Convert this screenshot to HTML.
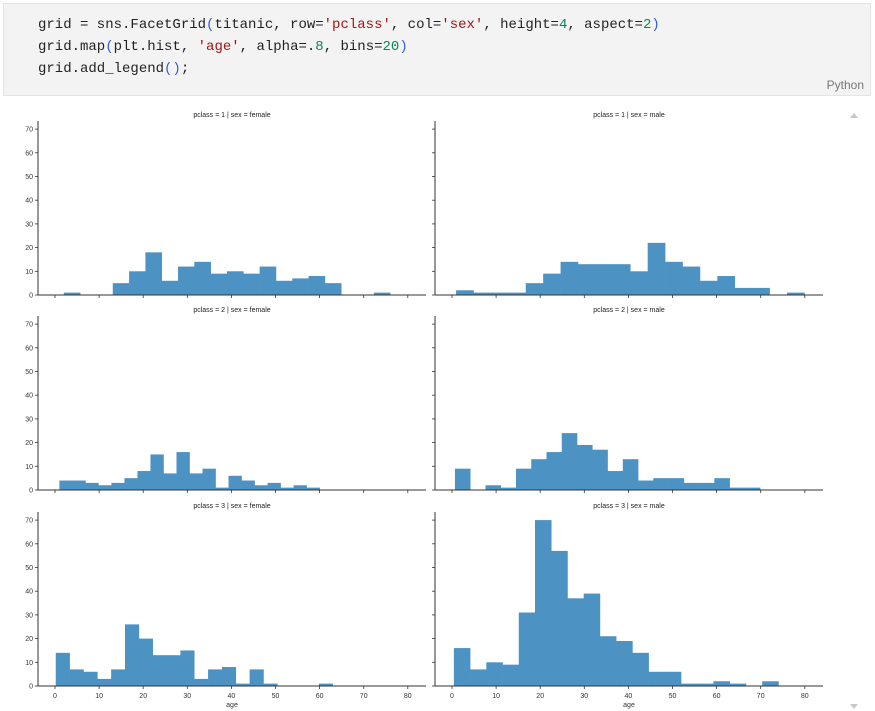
<!DOCTYPE html>
<html><head><meta charset="utf-8"><style>
body{margin:0;width:875px;height:711px;background:#fff;overflow:hidden;position:relative;font-family:"Liberation Sans",sans-serif}
#code{position:absolute;left:3px;top:3px;width:868px;height:93px;background:#f3f3f3;border:1px solid #e4e4e4;box-sizing:border-box}
#code pre{margin:0;position:absolute;left:34px;top:10px;font-family:"Liberation Mono",monospace;font-size:14px;line-height:22px;color:#222}
.p{color:#2f5fd8}.s{color:#a31515}.n{color:#098658}
#lang{position:absolute;right:6px;bottom:3px;font-size:12px;color:#777}
svg{position:absolute;left:0;top:0}
</style></head><body>
<div id="code">
<pre>grid = sns.FacetGrid<span class="p">(</span>titanic, row=<span class="s">'pclass'</span>, col=<span class="s">'sex'</span>, height=<span class="n">4</span>, aspect=<span class="n">2</span><span class="p">)</span>
grid.map<span class="p">(</span>plt.hist, <span class="s">'age'</span>, alpha=.<span class="n">8</span>, bins=<span class="n">20</span><span class="p">)</span>
grid.add_legend<span class="p">()</span>;</pre>
<div id="lang">Python</div>
</div>
<svg id="chart" width="875" height="711">
<polygon points="850,118 858,118 854,113" fill="#c8c8c8"/>
<polygon points="850,704 858,704 854,709" fill="#c8c8c8"/>
</svg>
<script>
const titles = ["pclass = 1 | sex = female","pclass = 1 | sex = male","pclass = 2 | sex = female","pclass = 2 | sex = male","pclass = 3 | sex = female","pclass = 3 | sex = male"];
const binStarts = [2, 0.92, 1, 0.67, 0.17, 0.42];
const binWidths = [3.7, 3.95, 2.95, 3.46, 3.14, 3.68];
const c1f = [1,0,0,5,10,18,6,12,14,9,10,9,12,6,7,8,5,0,0,1];
const c1m = [2,1,1,1,5,9,14,13,13,13,10,22,14,12,6,8,3,3,0,1];
const c2f = [4,4,3,2,3,5,8,15,7,16,7,9,1,6,4,2,3,1,2,1];
const c2m = [9,0,2,1,9,13,16,24,19,17,8,13,4,5,5,3,3,5,1,1];
const c3f = [14,7,6,3,7,26,20,13,13,15,3,7,8,1,7,1,0,0,0,1];
const c3m = [16,7,10,9,31,70,57,37,39,21,19,14,6,6,1,1,2,1,0,2];
const series = [c1f,c1m,c2f,c2m,c3f,c3m];
const yTicks = [0,10,20,30,40,50,60,70];
const xTicks = [0,10,20,30,40,50,60,70,80];

const svg = document.getElementById('chart');
const NS = 'http://www.w3.org/2000/svg';
function mk(tag, attrs){const e=document.createElementNS(NS,tag);for(const k in attrs)e.setAttribute(k,attrs[k]);svg.appendChild(e);return e;}
const colX0=[38,435], colW=388, rowBase=[295,490,686], xpx=4.41, ypx=2.37;
for(let i=0;i<6;i++){
  const r=Math.floor(i/2), c=i%2;
  const x0=colX0[c], base=rowBase[r], zx=x0+17;
  const X=v=>zx+v*xpx, Y=v=>base-v*ypx;
  const t=mk('text',{x:x0+colW/2,y:base-178,'font-size':'7','text-anchor':'middle',fill:'#222'});
  t.textContent=titles[i];
  
  
  series[i].forEach((v,j)=>{
    if(v<=0)return;
    const a=binStarts[i]+j*binWidths[i];
    const b=mk('rect',{x:X(a),y:Y(v),width:binWidths[i]*xpx+0.3,height:v*ypx,fill:'#4c92c3'});
    
    
  });
  const ys=mk('line',{x1:x0,y1:base-174,x2:x0,y2:base,stroke:'#333','stroke-width':'1'});
  
  
  const xs=mk('line',{x1:x0,y1:base,x2:x0+colW,y2:base,stroke:'#333','stroke-width':'1'});
  
  
  yTicks.forEach(v=>{
    mk('line',{x1:x0-3,y1:Y(v),x2:x0,y2:Y(v),stroke:'#333','stroke-width':'0.8'});
    if(c===0){const l=mk('text',{x:x0-5,y:Y(v)+2.5,'font-size':'7','text-anchor':'end',fill:'#333'});l.textContent=v;
      
      }
  });
  xTicks.forEach(v=>{
    mk('line',{x1:X(v),y1:base,x2:X(v),y2:base+3,stroke:'#333','stroke-width':'0.8'});
    if(r===2){const l=mk('text',{x:X(v),y:base+12,'font-size':'7','text-anchor':'middle',fill:'#333'});l.textContent=v;
      
      }
  });
  if(r===2){const l=mk('text',{x:x0+colW/2,y:base+21,'font-size':'7','text-anchor':'middle',fill:'#333'});l.textContent='age';
    
    }
}
</script>
</body></html>
